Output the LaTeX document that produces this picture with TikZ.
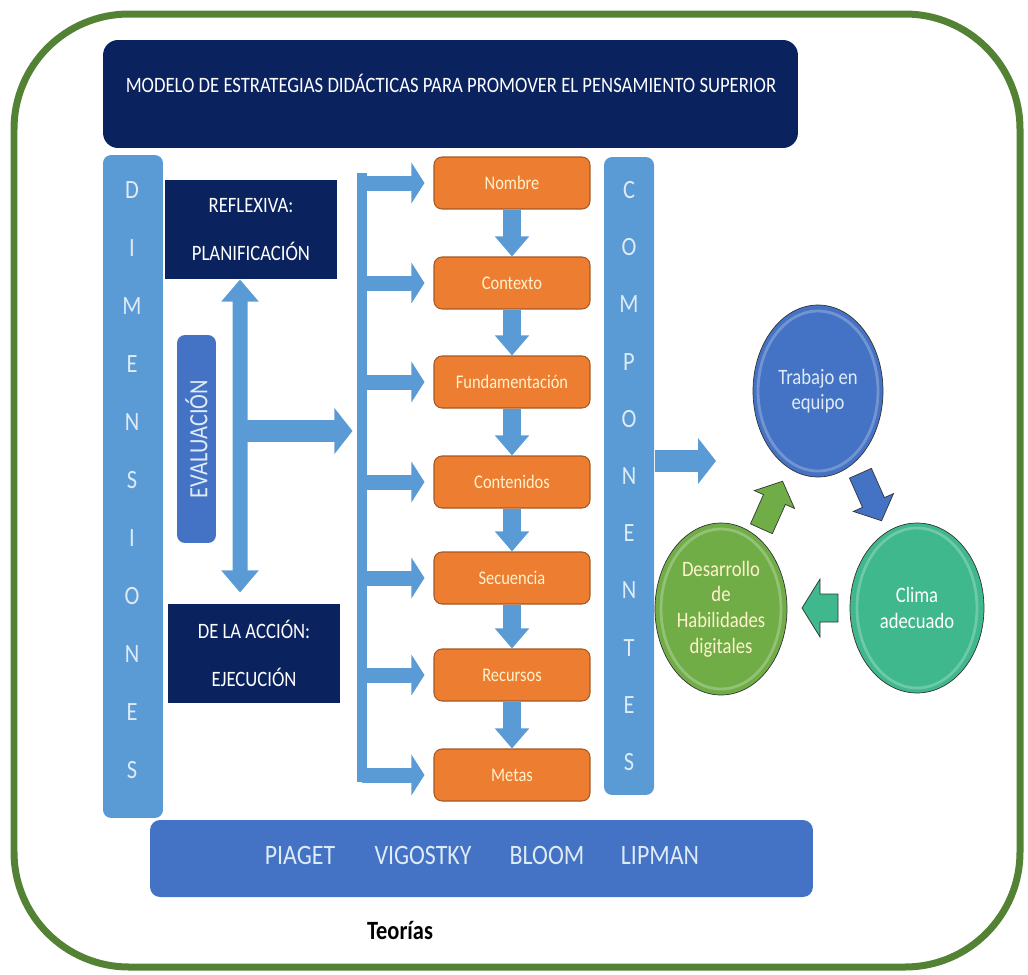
\documentclass[tikz,border=0pt]{standalone}
\usepackage{fontspec}
\setmainfont{Carlito}[FakeStretch=0.85]
\usetikzlibrary{arrows.meta,shapes.geometric}
\definecolor{navy}{RGB}{10,34,94}
\definecolor{cielo}{RGB}{91,155,213}
\definecolor{rey}{RGB}{68,114,196}
\definecolor{naranja}{RGB}{237,125,49}
\definecolor{marco}{RGB}{84,130,53}
\definecolor{verde}{RGB}{112,173,71}
\definecolor{turquesa}{RGB}{62,184,140}
\definecolor{palido}{RGB}{222,235,247}
\definecolor{crema}{RGB}{255,242,204}
\begin{document}
\begin{tikzpicture}[x=0.02cm,y=-0.02cm,semithick,
caja/.style={fill=navy,text=white,align=center,inner sep=0pt,minimum width=3.44cm,minimum height=1.98cm,font=\fontsize{12.5}{14.5}\selectfont},
barra/.style={fill=cielo,rounded corners=0.16cm,inner sep=0pt},
letra/.style={text=palido,font=\fontsize{15}{17}\selectfont},
paso/.style={fill=naranja,draw=naranja!70!black,rounded corners=0.16cm,minimum width=3.12cm,minimum height=1.04cm,text=crema,font=\fontsize{11}{13}\selectfont},
circulo/.style={ellipse,draw=black!80,thin,inner sep=0pt,align=center,font=\fontsize{12.5}{14.6}\selectfont,
  path picture={\draw[white,opacity=0.25,line width=1.6pt] (path picture bounding box.center) ellipse[x radius=1.2cm,y radius=1.6cm];}},
autor/.style={text=palido,font=\fontsize{16}{18}\selectfont},
dflecha/.style={draw=cielo,line width=0.3cm,{Triangle[width=0.72cm,length=0.44cm]}-{Triangle[width=0.72cm,length=0.44cm]}},
gflecha/.style={draw=cielo,line width=0.44cm,-{Triangle[width=0.9cm,length=0.36cm]}},
rama/.style={draw=cielo,line width=0.3cm,-{Triangle[width=0.8cm,length=0.26cm]}},
bajar/.style={draw=cielo,line width=0.36cm,-{Triangle[width=0.66cm,length=0.4cm]}}]
\useasboundingbox (0,0) rectangle (1028,974);
\draw[marco,line width=0.14cm,rounded corners=2.3cm] (14,14) rectangle (1020,967);
% titulo
\node[fill=navy,rounded corners=0.3cm,minimum width=13.9cm,minimum height=2.16cm,inner sep=0pt] (titulo) at (450.5,94) {};
\node[text=white,font=\fontsize{12.5}{14.5}\selectfont] (titulotxt) at (451,83) {MODELO DE ESTRATEGIAS DIDÁCTICAS PARA PROMOVER EL PENSAMIENTO SUPERIOR};
% dimensiones
\node[barra,minimum width=1.2cm,minimum height=13.26cm] (dim) at (133,486.5) {};
\foreach \l [count=\i from 0] in {D,I,M,E,N,S,I,O,N,E,S}
\node[letra] (d\i) at (132,190+58*\i) {\l};
\node[caja] (refl) at (251,229.5) {REFLEXIVA:\\[13pt]PLANIFICACIÓN};
\node[caja] (accion) at (254,653.5) {DE LA ACCIÓN:\\[13pt]EJECUCIÓN};
\node[fill=rey,rounded corners=0.16cm,rotate=90,minimum width=4.16cm,minimum height=0.78cm,inner sep=0pt,text=palido,font=\fontsize{15}{17}\selectfont] (eval) at (196.5,439) {EVALUACIÓN};
\draw[dflecha] ([xshift=-0.22cm]refl.south) -- ([xshift=-0.28cm,yshift=0.22cm]accion.north);
% pasos
\node[fill=cielo,minimum width=0.2cm,minimum height=12.18cm,inner sep=0pt] (espina) at (362,477.5) {};
\coordinate (cruce) at (240,431);
\draw[gflecha,shorten >=0.08cm] (cruce) -- (espina.west |- cruce);
\foreach \n/\y/\t in {o1/183/Nombre,o2/283/Contexto,o3/382/Fundamentación,o4/482/Contenidos,o5/578/Secuencia,o6/675/Recursos,o7/775/Metas}
\node[paso] (\n) at (512,\y) {\t};
\foreach \i in {1,...,7}
\draw[rama,shorten >=0.18cm] (espina.center |- o\i) -- (o\i.west);
\foreach \i/\j in {1/2,2/3,3/4,4/5,5/6,6/7}
\draw[bajar] (o\i.south) -- (o\j.north);
% componentes
\node[barra,minimum width=1.0cm,minimum height=12.76cm] (comp) at (629,476) {};
\foreach \l [count=\i from 0] in {C,O,M,P,O,N,E,N,T,E,S}
\node[letra] (c\i) at (629,190+57.2*\i) {\l};
\coordinate (ctip) at (716,461);
\draw[gflecha] (comp.east |- ctip) -- (ctip);
% circulos
\node[circulo,fill=rey,text=palido,minimum width=2.6cm,minimum height=3.44cm] (trabajo) at (818,391) {Trabajo en\\equipo};
\node[circulo,fill=turquesa,text=white,minimum width=2.68cm,minimum height=3.4cm] (clima) at (917,608) {Clima\\adecuado};
\node[circulo,fill=verde,text=crema,minimum width=2.64cm,minimum height=3.44cm] (desarrollo) at (721,609) {Desarrollo\\de\\Habilidades\\digitales};
% flechas del ciclo
\foreach \c/\p/\a/\L/\b/\w/\h in {verde/{772,505}/66/52/12/22/20,rey/{871,497}/-66/52/12/22/20,turquesa/{820,608}/180/36/14/29/18}
\filldraw[fill=\c,draw=black!80,thin,shift={(\p)},rotate=\a] (-\L/2,-\b) -- (\L/2-\h,-\b) -- (\L/2-\h,-\w) -- (\L/2,0) -- (\L/2-\h,\w) -- (\L/2-\h,\b) -- (-\L/2,\b) -- cycle;
% teorias
\node[fill=rey,rounded corners=0.2cm,minimum width=13.26cm,minimum height=1.54cm,inner sep=0pt] (teorias) at (481.5,858.5) {};
\foreach \x/\t in {300/PIAGET,423/VIGOSTKY,547/BLOOM,660/LIPMAN}
\node[autor] (\t) at (\x,855) {\t};
\node[font=\bfseries\fontsize{15}{17}\selectfont] (tlab) at (400,930) {Teorías};
\end{tikzpicture}
\end{document}
